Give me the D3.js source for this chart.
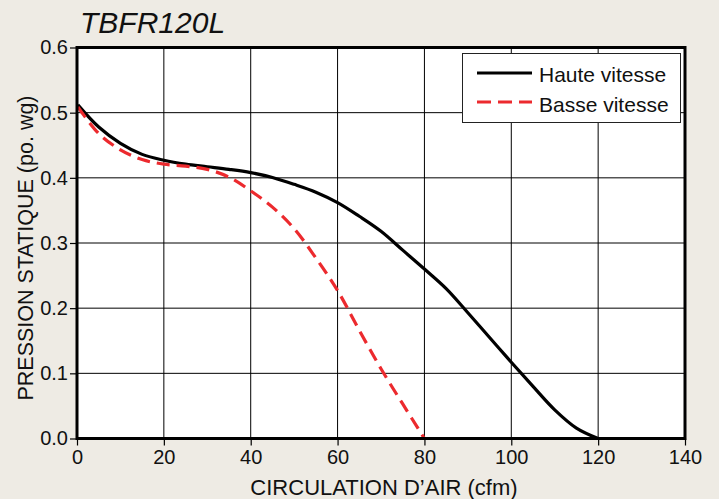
<!DOCTYPE html>
<html>
<head>
<meta charset="utf-8">
<script src="https://cdn.jsdelivr.net/npm/d3@7"></script>
<style>
  html, body { margin: 0; padding: 0; background: #eeebe4; }
  svg { display: block; }
  text { font-family: "Liberation Sans", Arial, Helvetica, sans-serif; fill: #111; }
</style>
</head>
<body>
<svg id="chart" width="719" height="499"></svg>
<script>
const title = "TBFR120L";
const xLabel = "CIRCULATION D\u2019AIR (cfm)";
const yLabel = "PRESSION STATIQUE (po. wg)";
const xTicks = [0, 20, 40, 60, 80, 100, 120, 140];
const yTicks = [0.0, 0.1, 0.2, 0.3, 0.4, 0.5, 0.6];
const seriesNames = ["Haute vitesse", "Basse vitesse"];

const hauteX = [0.2, 5, 10, 15, 20, 25, 30, 35, 40, 45, 50, 55, 60, 65, 70, 75, 80, 85, 90, 95, 100, 105, 110, 115, 120];
const hauteY = [0.512, 0.478, 0.453, 0.436, 0.427, 0.421, 0.417, 0.413, 0.408, 0.4005, 0.390, 0.378, 0.362, 0.341, 0.318, 0.289, 0.260, 0.230, 0.193, 0.155, 0.117, 0.080, 0.044, 0.016, 0.0];

const basseX = [0.2, 5, 10, 15, 20, 25, 30, 35, 40, 45, 50, 55, 60, 65, 70, 75, 80];
const basseY = [0.509, 0.468, 0.443, 0.428, 0.421, 0.418, 0.413, 0.401, 0.380, 0.355, 0.322, 0.277, 0.227, 0.166, 0.107, 0.053, 0.0];

const svg = d3.select("#chart");
const pLeft = 77, pRight = 685, pTop = 47.5, pBottom = 438.5;

const x = d3.scaleLinear().domain([0, 140]).range([pLeft, pRight]);
const y = d3.scaleLinear().domain([0, 0.6]).range([pBottom, pTop]);

// plot background
svg.append("rect").attr("x", pLeft).attr("y", pTop)
  .attr("width", pRight - pLeft).attr("height", pBottom - pTop).attr("fill", "#fff");

// gridlines
svg.append("g").selectAll("line").data(xTicks.slice(1, -1)).join("line")
  .attr("x1", d => x(d)).attr("x2", d => x(d)).attr("y1", pTop).attr("y2", pBottom)
  .attr("stroke", "#000").attr("stroke-width", 1);
svg.append("g").selectAll("line").data(yTicks.slice(1, -1)).join("line")
  .attr("y1", d => y(d)).attr("y2", d => y(d)).attr("x1", pLeft).attr("x2", pRight)
  .attr("stroke", "#000").attr("stroke-width", 1);

// axes
const xAxis = d3.axisBottom(x).tickValues(xTicks).tickFormat(d3.format("d")).tickSizeInner(7).tickSizeOuter(0).tickPadding(4);
const yAxis = d3.axisLeft(y).tickValues(yTicks).tickFormat(d3.format(".1f")).tickSizeInner(7).tickSizeOuter(0).tickPadding(2);

const gx = svg.append("g").attr("transform", `translate(0,${pBottom})`).call(xAxis);
const gy = svg.append("g").attr("transform", `translate(${pLeft},0)`).call(yAxis);
[gx, gy].forEach(g => {
  g.select(".domain").remove();
  g.selectAll(".tick line").attr("stroke", "#000").attr("stroke-width", 1.2);
  g.selectAll(".tick text").attr("font-size", 20).attr("fill", "#111")
    .attr("font-family", "'Liberation Sans', Arial, sans-serif");
});

// curves
const line = d3.line().x(d => x(d[0])).y(d => y(d[1])).curve(d3.curveCatmullRom.alpha(0.5));
const hauteData = hauteX.map((v, i) => [v, hauteY[i]]);
const basseData = basseX.map((v, i) => [v, basseY[i]]);

svg.append("path").datum(hauteData).attr("d", line)
  .attr("fill", "none").attr("stroke", "#000").attr("stroke-width", 3.2);
svg.append("path").datum(basseData).attr("d", line)
  .attr("fill", "none").attr("stroke", "#ec2a2e").attr("stroke-width", 3.2)
  .attr("stroke-dasharray", "13,7");

// border
svg.append("rect").attr("x", pLeft).attr("y", pTop)
  .attr("width", pRight - pLeft).attr("height", pBottom - pTop)
  .attr("fill", "none").attr("stroke", "#000").attr("stroke-width", 3);

// title
svg.append("text").attr("x", 80).attr("y", 33).attr("font-size", 30)
  .attr("font-style", "italic").text(title);

// axis labels
svg.append("text").attr("x", 384).attr("y", 495)
  .attr("text-anchor", "middle").attr("font-size", 22).text(xLabel);
svg.append("text").attr("transform", `translate(33,248) rotate(-90)`)
  .attr("text-anchor", "middle").attr("font-size", 21.5).text(yLabel);

// legend
const lg = svg.append("g");
lg.append("rect").attr("x", 462.5).attr("y", 53.5).attr("width", 218).attr("height", 69)
  .attr("fill", "#fff").attr("stroke", "#222").attr("stroke-width", 1);
const rows = [
  { name: seriesNames[0], color: "#000", dash: null, yy: 73, ty: 81.7 },
  { name: seriesNames[1], color: "#ec2a2e", dash: "14,7", yy: 102, ty: 111.5 }
];
rows.forEach(r => {
  lg.append("line").attr("x1", 477).attr("x2", 532).attr("y1", r.yy).attr("y2", r.yy)
    .attr("stroke", r.color).attr("stroke-width", 3.2).attr("stroke-dasharray", r.dash);
  lg.append("text").attr("x", 539).attr("y", r.ty).attr("font-size", 21).text(r.name);
});
</script>
</body>
</html>
